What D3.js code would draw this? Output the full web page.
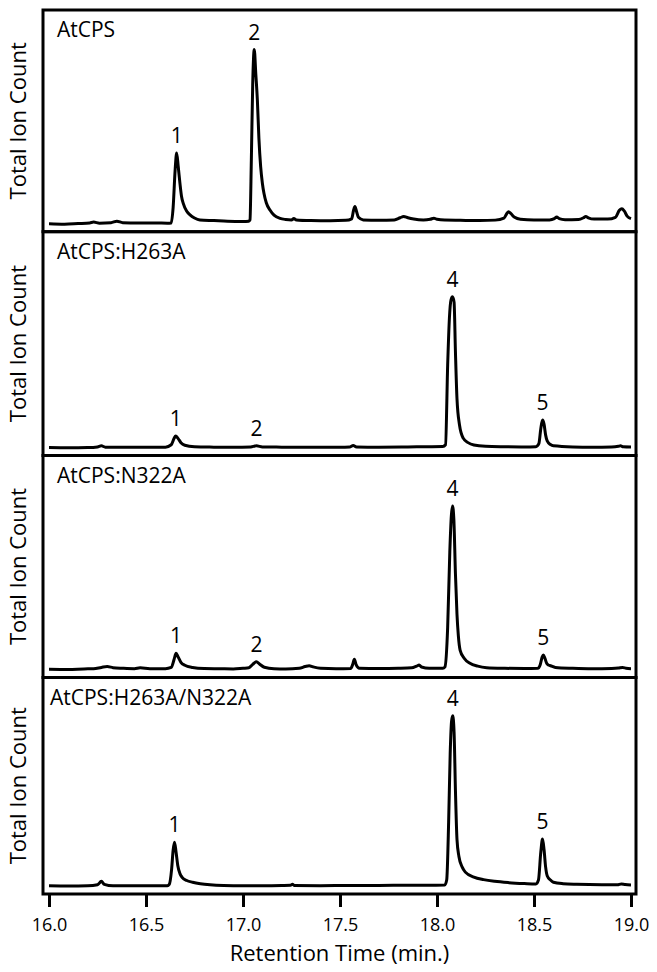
<!DOCTYPE html>
<html>
<head>
<meta charset="utf-8">
<script src="https://cdn.jsdelivr.net/npm/d3@7"></script>
<style>
  html, body { margin: 0; padding: 0; background: #fff; }
  svg { display: block; }
  text { font-family: "Open Sans", "Noto Sans", sans-serif; fill: #000; }
</style>
</head>
<body>
<div id="chart"></div>
<script>
// ---------------- data ----------------
const panelNames = ["AtCPS", "AtCPS:H263A", "AtCPS:N322A", "AtCPS:H263A/N322A"];
const xTicks = [16.0, 16.5, 17.0, 17.5, 18.0, 18.5, 19.0];
const xTitle = "Retention Time (min.)";
const yTitle = "Total Ion Count";

// [retention time (min), relative total ion count]
const traceAtCPS = [
  [16.00,0.2],[16.08,0.0],[16.15,0.3],[16.21,0.6],[16.23,1.0],[16.26,0.5],[16.32,0.7],[16.35,1.4],[16.38,0.7],
  [16.46,0.6],[16.55,0.6],[16.61,0.5],[16.630,0.6],[16.640,8],[16.650,25],[16.658,33.2],[16.666,27],[16.675,19],
  [16.683,13],[16.692,9.7],[16.71,6],[16.727,4.3],[16.75,2.9],[16.778,2.0],[16.85,1.7],[16.92,1.4],[17.00,1.3],
  [17.030,1.4],[17.036,2],[17.043,30],[17.050,65],[17.058,81.4],[17.066,70],[17.074,58],[17.082,40],[17.091,26.8],
  [17.100,19],[17.108,14.4],[17.120,10],[17.139,6.6],[17.160,4.2],[17.191,2.7],[17.22,2.2],[17.25,2.0],[17.262,2.6],
  [17.275,2.0],[17.35,1.7],[17.45,1.6],[17.53,1.8],[17.56,2.5],[17.570,6.5],[17.577,8.2],[17.585,6],[17.595,3.2],
  [17.62,2.0],[17.70,1.8],[17.78,2.0],[17.81,3.0],[17.828,3.6],[17.85,3.0],[17.88,2.4],[17.93,2.0],[17.965,2.3],
  [17.984,2.8],[18.00,2.3],[18.04,1.9],[18.12,1.8],[18.22,1.7],[18.30,1.9],[18.345,2.8],[18.360,5.0],[18.369,5.8],
  [18.380,5.0],[18.40,3.2],[18.43,2.3],[18.50,2.0],[18.58,2.0],[18.605,2.6],[18.617,3.3],[18.63,2.6],[18.66,2.1],
  [18.73,2.2],[18.755,3.0],[18.767,3.6],[18.78,3.0],[18.81,2.4],[18.88,2.4],[18.92,3.2],[18.940,6.5],[18.953,7.2],
  [18.965,6.2],[18.98,3.8],[19.00,2.6]
];
const traceH263A = [
  [16.00,0.2],[16.10,0.1],[16.20,0.2],[16.25,0.5],[16.27,1.0],[16.29,0.4],[16.40,0.3],[16.50,0.3],[16.60,0.4],
  [16.630,1.5],[16.645,4.5],[16.653,5.6],[16.665,4.5],[16.68,2.5],[16.70,1.3],[16.75,0.6],[16.85,0.4],[16.95,0.3],
  [17.04,0.5],[17.069,1.0],[17.10,0.5],[17.20,0.4],[17.35,0.3],[17.50,0.3],[17.55,0.5],[17.568,1.2],[17.585,0.5],
  [17.70,0.4],[17.85,0.5],[17.95,0.6],[18.03,0.7],[18.044,1.5],[18.055,38.7],[18.064,60.6],[18.072,69],[18.080,70.5],
  [18.088,68],[18.095,45],[18.103,23],[18.116,10.7],[18.135,4.6],[18.16,2.5],[18.19,1.4],[18.25,0.8],[18.35,0.6],
  [18.45,0.5],[18.51,0.6],[18.525,2],[18.535,9],[18.544,13.0],[18.552,11],[18.560,6],[18.568,3.3],[18.585,1.6],
  [18.60,1.0],[18.70,0.5],[18.80,0.4],[18.90,0.5],[18.935,0.8],[18.946,1.0],[18.96,0.6],[19.00,0.5]
];
const traceN322A = [
  [16.00,0.3],[16.10,0.2],[16.18,0.5],[16.23,0.6],[16.27,1.2],[16.30,1.6],[16.33,1.1],[16.38,0.8],[16.44,0.6],
  [16.47,1.0],[16.52,0.6],[16.60,0.6],[16.630,1.2],[16.645,5],[16.655,7.8],[16.665,6.2],[16.68,3.6],[16.70,2.2],
  [16.74,1.2],[16.80,0.7],[16.88,0.6],[16.95,0.5],[17.00,0.8],[17.03,1.0],[17.05,2.6],[17.069,3.9],[17.085,2.8],
  [17.11,1.3],[17.16,0.6],[17.22,0.5],[17.29,0.8],[17.32,1.6],[17.341,2.0],[17.36,1.5],[17.40,0.8],[17.48,0.6],
  [17.555,0.7],[17.565,2.5],[17.574,5.0],[17.583,2.5],[17.60,0.8],[17.70,0.7],[17.80,0.8],[17.87,1.0],[17.895,1.8],
  [17.908,2.3],[17.92,1.4],[17.96,0.8],[18.03,0.8],[18.041,1.5],[18.055,20],[18.066,55],[18.074,72],[18.080,76.5],
  [18.087,70],[18.095,45],[18.103,26],[18.110,16],[18.119,9.3],[18.14,5.5],[18.17,3.1],[18.21,1.8],[18.256,1.1],
  [18.35,0.8],[18.45,0.7],[18.52,0.8],[18.532,2.5],[18.542,6],[18.548,7.0],[18.556,5.5],[18.566,3],[18.574,2.3],
  [18.585,2.0],[18.61,1.2],[18.70,0.8],[18.80,0.6],[18.90,0.7],[18.935,0.9],[18.957,1.2],[18.975,0.8],[19.00,0.6]
];
const traceH263AN322A = [
  [16.00,0.3],[16.10,0.2],[16.20,0.3],[16.25,0.8],[16.27,2.4],[16.285,1.0],[16.33,0.3],[16.45,0.4],[16.55,0.3],
  [16.61,0.4],[16.620,1.0],[16.632,8],[16.640,17],[16.647,20.6],[16.655,16],[16.664,9.7],[16.675,6],[16.686,4.3],
  [16.71,2.8],[16.74,2.0],[16.78,1.3],[16.83,0.8],[16.90,0.5],[17.00,0.4],[17.10,0.4],[17.20,0.5],[17.245,0.6],
  [17.255,1.0],[17.265,0.5],[17.40,0.4],[17.55,0.5],[17.70,0.5],[17.85,0.6],[17.95,0.6],[18.04,0.7],[18.050,3],
  [18.060,30],[18.068,62],[18.075,77],[18.081,79.6],[18.088,72],[18.095,45],[18.103,22],[18.113,14],[18.130,9],
  [18.146,6.7],[18.19,4.4],[18.24,3.2],[18.297,2.4],[18.37,1.8],[18.45,1.4],[18.51,1.2],[18.523,3],[18.535,16],
  [18.544,22.1],[18.552,17],[18.560,9],[18.568,5.0],[18.585,3],[18.60,2.0],[18.65,1.3],[18.72,1.0],[18.85,0.8],
  [18.93,0.8],[18.95,1.2],[18.97,0.9],[19.00,0.7]
];

// peak numbers: [retention time, label]
const peaksAtCPS = [[16.658,"1"],[17.058,"2"]];
const peaksH263A = [[16.653,"1"],[17.069,"2"],[18.080,"4"],[18.544,"5"]];
const peaksN322A = [[16.655,"1"],[17.069,"2"],[18.080,"4"],[18.548,"5"]];
const peaksH263AN322A = [[16.647,"1"],[18.081,"4"],[18.544,"5"]];

const traces = [traceAtCPS, traceH263A, traceN322A, traceH263AN322A];
const peakSets = [peaksAtCPS, peaksH263A, peaksN322A, peaksH263AN322A];

// ---------------- layout ----------------
const W = 657, H = 972;
const left = 43, right = 636;
const edges = [10, 231.7, 455.5, 677.5, 894];
const nameX = [57, 57, 57, 50];
const SW = 3;

const svg = d3.select("#chart").append("svg").attr("width", W).attr("height", H);

const x = d3.scaleLinear().domain([16, 19]).range([49, 631]);

const line = d3.line().curve(d3.curveMonotoneX);

traces.forEach((tr, i) => {
  const top = edges[i], bottom = edges[i + 1];
  const y = d3.scaleLinear().domain([0, 100]).range([bottom - 7.5, bottom - 7.5 - 214.5]);
  const g = svg.append("g");

  line.x(d => x(d[0])).y(d => y(d[1]));
  g.append("path").datum(tr)
    .attr("d", line)
    .attr("fill", "none")
    .attr("stroke", "#000")
    .attr("stroke-width", SW)
    .attr("stroke-linejoin", "round");

  // panel label
  g.append("text").attr("x", nameX[i]).attr("y", top + 27)
    .attr("font-size", 21).text(panelNames[i]);

  // y title
  g.append("text")
    .attr("transform", `translate(26,${(top + bottom) / 2}) rotate(-90)`)
    .attr("text-anchor", "middle")
    .attr("font-size", 22)
    .text(yTitle);

  // peak labels
  peakSets[i].forEach(([t, lab]) => {
    const near = tr.filter(d => Math.abs(d[0] - t) < 0.02);
    const m = d3.max(near, d => d[1]);
    g.append("text").attr("x", x(t)).attr("y", y(m) - 10)
      .attr("text-anchor", "middle").attr("font-size", 21).text(lab);
  });

  // frame
  g.append("rect").attr("x", left).attr("y", top)
    .attr("width", right - left).attr("height", bottom - top)
    .attr("fill", "none").attr("stroke", "#000").attr("stroke-width", SW);
});

// x axis
const ax = svg.append("g").attr("transform", `translate(0,${edges[4]})`)
  .call(d3.axisBottom(x).tickValues(xTicks).tickFormat(d3.format(".1f")).tickSize(13).tickPadding(11));
ax.select(".domain").remove();
ax.selectAll(".tick line").attr("stroke", "#000").attr("stroke-width", SW);
ax.selectAll(".tick text").attr("font-size", 18).attr("font-family", "'Open Sans', sans-serif").attr("fill", "#000");

svg.append("text").attr("x", (left + right) / 2).attr("y", 961)
  .attr("text-anchor", "middle").attr("font-size", 22).text(xTitle);
</script>
</body>
</html>
